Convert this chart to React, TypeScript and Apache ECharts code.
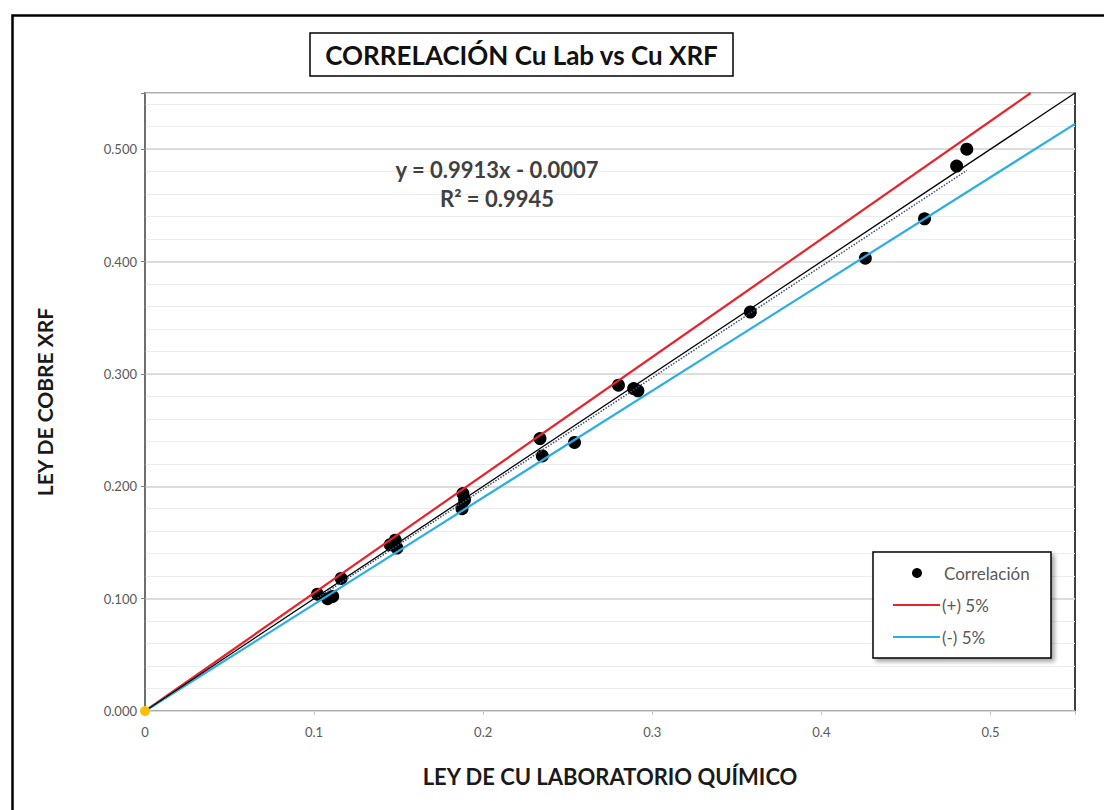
import React, { useEffect, useRef } from "react";
import * as echarts from "echarts";

// Data
const labCu = [0.102, 0.108, 0.111, 0.116, 0.145, 0.148, 0.149, 0.188, 0.189, 0.1875, 0.2336, 0.235, 0.254, 0.280, 0.289, 0.2915, 0.358, 0.426, 0.461, 0.480, 0.486];
const xrfCu = [0.104, 0.100, 0.102, 0.118, 0.148, 0.152, 0.145, 0.1935, 0.188, 0.180, 0.2425, 0.227, 0.239, 0.290, 0.287, 0.285, 0.355, 0.403, 0.438, 0.485, 0.500];
const originPoint = [[0, 0]];
const plusFive = [[0, 0], [0.5238, 0.55]];
const minusFive = [[0, 0], [0.55, 0.5225]];
const identityLine = [[0, 0], [0.55, 0.55]];
const trendX = [0.102, 0.486];
const trendSlope = 0.9913;
const trendIntercept = -0.0007;
const xTicks = [0, 0.1, 0.2, 0.3, 0.4, 0.5];
const yTicks = [0, 0.1, 0.2, 0.3, 0.4, 0.5];
const legendNames = ["Correlación", "(+) 5%", "(-) 5%"];
const legendColors = ["#000000", "#E8232C", "#2AAEE3"];

const FONT = "Lato, 'Open Sans', sans-serif";

export default function App() {
  const ref = useRef<HTMLDivElement>(null);
  useEffect(() => {
    if (!ref.current) return;
    const chart = echarts.init(ref.current, undefined, { renderer: "svg" });
    const points = labCu.map((x, i) => [x, xrfCu[i]]);
    const trend = trendX.map((x) => [x, trendSlope * x + trendIntercept]);

    const legendRowY = [573, 605, 637];
    const legendGraphics: any[] = [
      {
        type: "rect",
        shape: { x: 873, y: 552, width: 178, height: 106 },
        style: {
          fill: "#ffffff",
          stroke: "#000000",
          lineWidth: 1.5,
          shadowBlur: 4,
          shadowOffsetX: 3,
          shadowOffsetY: 3,
          shadowColor: "rgba(0,0,0,0.35)",
        },
        z: 10,
      },
      {
        type: "circle",
        shape: { cx: 917, cy: legendRowY[0], r: 5 },
        style: { fill: legendColors[0] },
        z: 11,
      },
      {
        type: "line",
        shape: { x1: 893, y1: legendRowY[1], x2: 940, y2: legendRowY[1] },
        style: { stroke: legendColors[1], lineWidth: 2.2 },
        z: 11,
      },
      {
        type: "line",
        shape: { x1: 893, y1: legendRowY[2], x2: 940, y2: legendRowY[2] },
        style: { stroke: legendColors[2], lineWidth: 2.2 },
        z: 11,
      },
    ];
    legendNames.forEach((n, i) => {
      legendGraphics.push({
        type: "text",
        x: i === 0 ? 944 : 942,
        y: legendRowY[i],
        style: {
          text: n,
          font: `17px ${FONT}`,
          fill: "#595959",
          align: "left",
          verticalAlign: "middle",
        },
        z: 11,
      });
    });

    chart.setOption({
      animation: false,
      backgroundColor: "#ffffff",
      textStyle: { fontFamily: FONT },
      grid: {
        left: 145,
        right: 29,
        top: 93,
        bottom: 99,
        show: true,
        borderColor: "#000000",
        borderWidth: 1.5,
        backgroundColor: "transparent",
      },
      xAxis: {
        type: "value",
        min: 0,
        max: 0.55,
        interval: 0.1,
        name: "LEY DE CU LABORATORIO QUÍMICO",
        nameLocation: "middle",
        nameGap: 54,
        nameTextStyle: { fontFamily: FONT, fontWeight: "bold", fontSize: 22, color: "#1a1a1a" },
        axisLine: { show: true, lineStyle: { color: "#404040", width: 1.5 } },
        axisTick: { show: true, length: 4, lineStyle: { color: "#bfbfbf" } },
        axisLabel: {
          margin: 14,
          fontSize: 13,
          color: "#595959",
          fontFamily: FONT,
          formatter: (v: number) => (xTicks.some((t) => Math.abs(t - v) < 1e-6) ? String(+v.toFixed(1)) : ""),
        },
        splitLine: { show: false },
      },
      yAxis: [
        {
          type: "value",
          min: 0,
          max: 0.55,
          interval: 0.1,
          name: "LEY DE COBRE XRF",
          nameLocation: "middle",
          nameGap: 90,
          nameTextStyle: { fontFamily: FONT, fontWeight: "bold", fontSize: 21, color: "#1a1a1a" },
          axisLine: { show: true, lineStyle: { color: "#7f7f7f", width: 1.5 } },
          axisTick: { show: true, length: 4, lineStyle: { color: "#7f7f7f" } },
          axisLabel: {
            margin: 8,
            fontSize: 13,
            color: "#595959",
            fontFamily: FONT,
            formatter: (v: number) => (yTicks.some((t) => Math.abs(t - v) < 1e-6) ? v.toFixed(3) : ""),
          },
          splitLine: { show: true, lineStyle: { color: "#d4d4d4", width: 1.5 } },
          z: 3,
        },
        {
          type: "value",
          min: 0,
          max: 0.55,
          interval: 0.02,
          position: "left",
          axisLine: { show: false },
          axisTick: { show: false },
          axisLabel: { show: false },
          splitLine: { show: true, lineStyle: { color: "#ececec", width: 1 } },
          z: 1,
        },
      ],
      graphic: [
        {
          type: "rect",
          left: 10,
          top: 13,
          shape: { width: 1200, height: 900 },
          style: { fill: "none", stroke: "#000000", lineWidth: 2.5 },
          z: 0,
          silent: true,
        },
        {
          type: "rect",
          shape: { x: 310, y: 33, width: 423, height: 43 },
          style: { fill: "#ffffff", stroke: "#000000", lineWidth: 1.5 },
          z: 5,
        },
        {
          type: "text",
          x: 521.5,
          y: 55,
          style: {
            text: "CORRELACIÓN Cu Lab vs Cu XRF",
            font: `bold 26px ${FONT}`,
            fill: "#111111",
            align: "center",
            verticalAlign: "middle",
          },
          z: 6,
        },
        {
          type: "text",
          x: 497,
          y: 169,
          style: {
            text: "y = 0.9913x - 0.0007",
            font: `bold 22px ${FONT}`,
            fill: "#404040",
            align: "center",
            verticalAlign: "middle",
          },
          z: 6,
        },
        {
          type: "text",
          x: 497,
          y: 198,
          style: {
            text: "R² = 0.9945",
            font: `bold 22px ${FONT}`,
            fill: "#404040",
            align: "center",
            verticalAlign: "middle",
          },
          z: 6,
        },
        ...legendGraphics,
      ],
      series: [
        {
          name: "Correlación",
          type: "scatter",
          data: points,
          symbol: "circle",
          symbolSize: 13,
          itemStyle: { color: "#000000", opacity: 1 },
          z: 3,
        },
        {
          name: "Origen",
          type: "scatter",
          data: originPoint,
          symbolSize: 10,
          itemStyle: { color: "#FFC000", opacity: 1 },
          z: 6,
        },
        {
          name: "(+) 5%",
          type: "line",
          data: plusFive,
          showSymbol: false,
          symbol: "none",
          lineStyle: { color: legendColors[1], width: 2.2 },
          z: 4,
        },
        {
          name: "(-) 5%",
          type: "line",
          data: minusFive,
          showSymbol: false,
          symbol: "none",
          lineStyle: { color: legendColors[2], width: 2.2 },
          z: 4,
        },
        {
          name: "1:1",
          type: "line",
          data: identityLine,
          showSymbol: false,
          symbol: "none",
          lineStyle: { color: "#000000", width: 1.3 },
          z: 4,
        },
        {
          name: "Tendencia",
          type: "line",
          data: trend,
          showSymbol: false,
          symbol: "none",
          lineStyle: { color: "#3a5274", width: 1.5, type: "dotted" },
          z: 4,
        },
      ],
    });
    return () => chart.dispose();
  }, []);
  return (
    <div
      ref={ref}
      style={{ position: "fixed", left: 0, top: 0, width: 1104, height: 810, background: "#fff" }}
    />
  );
}
